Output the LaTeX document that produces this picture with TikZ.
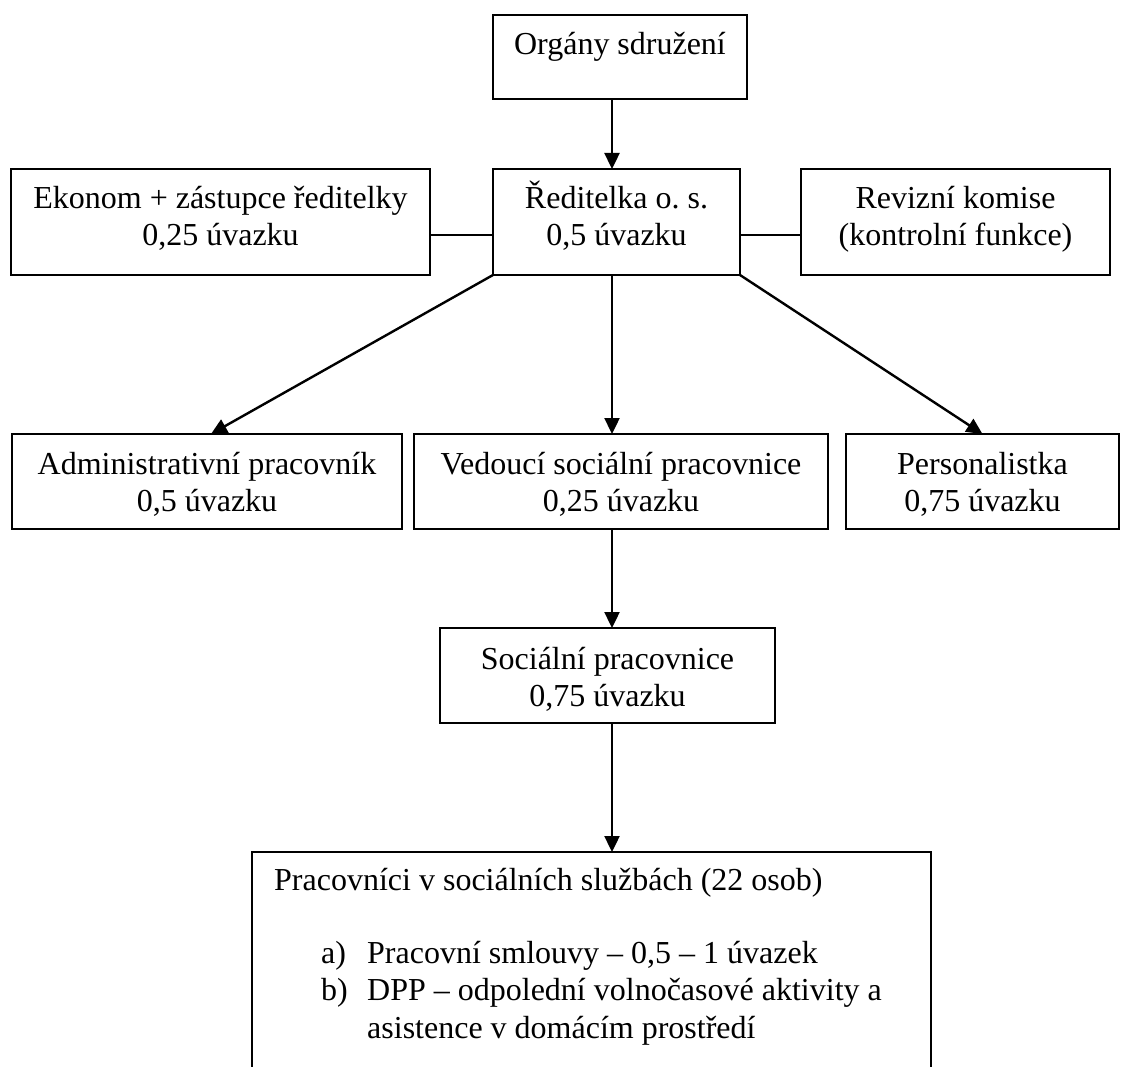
\documentclass[tikz,border=0pt]{standalone}
\usepackage{fontspec}
\setmainfont{Liberation Serif}
\usetikzlibrary{arrows.meta}
\begin{document}
\begin{tikzpicture}[x=1pt,y=-1pt,
  box/.style={draw, line width=2.4pt, inner sep=0pt, outer sep=0pt, rectangle},
  lbl/.style={inner sep=0pt, align=center, font=\fontsize{32}{37}\selectfont},
  arr/.style={line width=2.4pt, -{Triangle[length=16pt,width=15pt]}},
  conn/.style={line width=2.4pt}]
\useasboundingbox (0,0) rectangle (1121,1067);
% boxes
\node[box, minimum width=254pt, minimum height=84pt]  (org) at (620,57) {};
\node[box, minimum width=247pt, minimum height=106pt] (red) at (616.5,222) {};
\node[box, minimum width=419pt, minimum height=106pt] (eko) at (220.5,222) {};
\node[box, minimum width=309pt, minimum height=106pt] (rev) at (955.5,222) {};
\node[box, minimum width=390pt, minimum height=95pt]  (adm) at (207,481.5) {};
\node[box, minimum width=414pt, minimum height=95pt]  (ved) at (621,481.5) {};
\node[box, minimum width=273pt, minimum height=95pt]  (per) at (982.5,481.5) {};
\node[box, minimum width=335pt, minimum height=95pt]  (soc) at (607.5,675.5) {};
\node[box, minimum width=679pt, minimum height=260pt, anchor=north west] (pra) at (252,852) {};
% texts (base anchor = baseline of the last line)
\node[lbl, anchor=base] (org-t) at (620,55) {Orgány sdružení};
\node[lbl, anchor=base] (red-t) at (616.5,246) {Ředitelka o.~s.\\0,5 úvazku};
\node[lbl, anchor=base] (eko-t) at (220.5,246) {Ekonom + zástupce ředitelky\\0,25 úvazku};
\node[lbl, anchor=base] (rev-t) at (955.5,246) {Revizní komise\\(kontrolní funkce)};
\node[lbl, anchor=base] (adm-t) at (207,511) {Administrativní pracovník\\0,5 úvazku};
\node[lbl, anchor=base] (ved-t) at (621,511) {Vedoucí sociální pracovnice\\0,25 úvazku};
\node[lbl, anchor=base] (per-t) at (982.5,511) {Personalistka\\0,75 úvazku};
\node[lbl, anchor=base] (soc-t) at (607.5,706) {Sociální pracovnice\\0,75 úvazku};
\node[lbl, anchor=base west] (pra-t) at (274,890) {Pracovníci v sociálních službách (22 osob)};
\node[lbl, anchor=base west] (pra-a) at (321,963) {a)};
\node[lbl, anchor=base west] (pra-at) at (367,963) {Pracovní smlouvy – 0,5 – 1 úvazek};
\node[lbl, anchor=base west] (pra-b) at (321,1000) {b)};
\node[lbl, anchor=base west] (pra-bt) at (367,1000) {DPP – odpolední volnočasové aktivity a};
\node[lbl, anchor=base west] (pra-bt2) at (367,1038) {asistence v domácím prostředí};
% connectors
\coordinate (vx) at (612,0);
\coordinate (ax) at (211,0);
\coordinate (hy) at (0,235);
\draw[arr] (org.south -| vx) -- (red.north -| vx);
\draw[arr] (red.south -| vx) -- (ved.north -| vx);
\draw[arr] (ved.south -| vx) -- (soc.north -| vx);
\draw[arr] (soc.south -| vx) -- (pra.north -| vx);
\draw[arr] (red.south west) -- (adm.north -| ax);
\draw[arr] (red.south east) -- (per.north);
\draw[conn] (eko.east |- hy) -- (red.west |- hy);
\draw[conn] (red.east |- hy) -- (rev.west |- hy);
\end{tikzpicture}
\end{document}
